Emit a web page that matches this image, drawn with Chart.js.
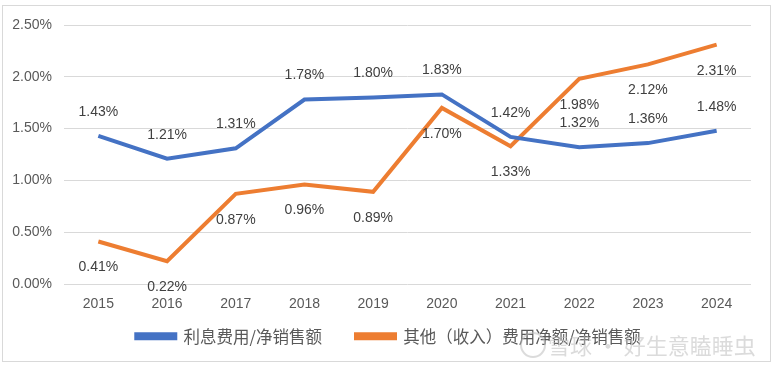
<!DOCTYPE html>
<html>
<head>
<meta charset="utf-8">
<script src="https://cdn.jsdelivr.net/npm/chart.js@4/dist/chart.umd.min.js"></script>
<style>
    html, body { margin: 0; padding: 0; background: #ffffff; }
    #wrap { position: relative; width: 774px; height: 368px; }
    #mark {
        position: absolute; left: 548px; top: 328px;
        font-family: "Noto Sans CJK SC", sans-serif; font-size: 22px;
        color: rgba(190, 190, 190, 0.55); white-space: nowrap; pointer-events: none;
    }
    #logo {
        position: absolute; left: 520px; top: 332px; width: 22px; height: 22px;
        border: 2px solid rgba(190, 190, 190, 0.55); border-radius: 50%;
    }
</style>
</head>
<body>
<div id="wrap">
    <canvas id="lineChart" width="774" height="368"></canvas>
    <div id="logo"></div>
    <div id="mark">雪球 · 好生意瞌睡虫</div>
</div>
<script>
// years on the x axis
const years = ["2015", "2016", "2017", "2018", "2019", "2020", "2021", "2022", "2023", "2024"];
// values in percent
const interestRatio = [1.43, 1.21, 1.31, 1.78, 1.80, 1.83, 1.42, 1.32, 1.36, 1.48];
const otherRatio = [0.41, 0.22, 0.87, 0.96, 0.89, 1.70, 1.33, 1.98, 2.12, 2.31];
const seriesNames = ["利息费用/净销售额", "其他（收入）费用净额/净销售额"];

document.addEventListener("DOMContentLoaded", function () {
    // outer frame like the excel chart box
    const framePlugin = {
        id: "frame",
        beforeDraw(chart) {
            const ctx = chart.ctx;
            ctx.save();
            ctx.strokeStyle = "#d9d9d9";
            ctx.lineWidth = 1;
            ctx.strokeRect(2.5, 5.5, 768, 356);
            ctx.restore();
        }
    };

    // legend padding is big for the horizontal gap, so keep its box short and place it by hand
    const legendPlace = {
        id: "legendPlace",
        afterInit(chart) {
            const lg = chart.legend;
            const fit = lg.fit;
            lg.fit = function () {
                fit.call(this);
                this.height = 36;
            };
        },
        afterLayout(chart) {
            const lg = chart.legend;
            lg.top = 294;
            lg.bottom = 362;
            lg.height = 68;
            lg.left += 13;
            lg.right += 13;
        }
    };

    // value labels: first series above the line, second below
    const labelPlugin = {
        id: "valueLabels",
        afterDatasetsDraw(chart) {
            const ctx = chart.ctx;
            ctx.save();
            ctx.font = "14px 'Liberation Sans', Arial, sans-serif";
            ctx.fillStyle = "#404040";
            ctx.textAlign = "center";
            ctx.textBaseline = "middle";
            chart.data.datasets.forEach(function (ds, i) {
                const meta = chart.getDatasetMeta(i);
                meta.data.forEach(function (pt, j) {
                    const dy = i === 0 ? -24 : 26;
                    ctx.fillText(ds.data[j].toFixed(2) + "%", pt.x, pt.y + dy);
                });
            });
            ctx.restore();
        }
    };

    const ctx = document.getElementById("lineChart").getContext("2d");
    new Chart(ctx, {
        type: "line",
        data: {
            labels: years,
            datasets: [
                {
                    label: seriesNames[0],
                    data: interestRatio,
                    borderColor: "#4472c4",
                    backgroundColor: "#4472c4",
                    borderWidth: 4,
                    pointRadius: 0,
                    tension: 0,
                    fill: false,
                },
                {
                    label: seriesNames[1],
                    data: otherRatio,
                    borderColor: "#ed7d31",
                    backgroundColor: "#ed7d31",
                    borderWidth: 4,
                    pointRadius: 0,
                    tension: 0,
                    fill: false,
                },
            ],
        },
        options: {
            responsive: false,
            animation: false,
            layout: {
                padding: { left: 0, right: 23, top: 25, bottom: 16 },
            },
            scales: {
                x: {
                    offset: true,
                    grid: { display: false },
                    border: { display: false },
                    ticks: {
                        color: "#595959",
                        font: { family: "'Liberation Sans', Arial, sans-serif", size: 14 },
                        padding: 4,
                    },
                    afterFit: function (scale) { scale.height = 32; },
                },
                y: {
                    min: 0,
                    max: 2.5,
                    ticks: {
                        stepSize: 0.5,
                        color: "#595959",
                        font: { family: "'Liberation Sans', Arial, sans-serif", size: 14 },
                        padding: 12,
                        callback: function (v) { return v.toFixed(2) + "%"; },
                    },
                    grid: { color: "#d9d9d9", drawTicks: false },
                    border: { display: false },
                    afterFit: function (scale) { scale.width = 64; },
                },
            },
            plugins: {
                legend: {
                    display: true,
                    position: "bottom",
                    labels: {
                        color: "#595959",
                        boxWidth: 39,
                        boxHeight: 4,
                        padding: 34,
                        font: { family: "'Noto Sans CJK SC', sans-serif", size: 16.5 },
                    },
                },
                tooltip: { enabled: false },
            },
        },
        plugins: [framePlugin, legendPlace, labelPlugin],
    });
});
</script>
</body>
</html>
